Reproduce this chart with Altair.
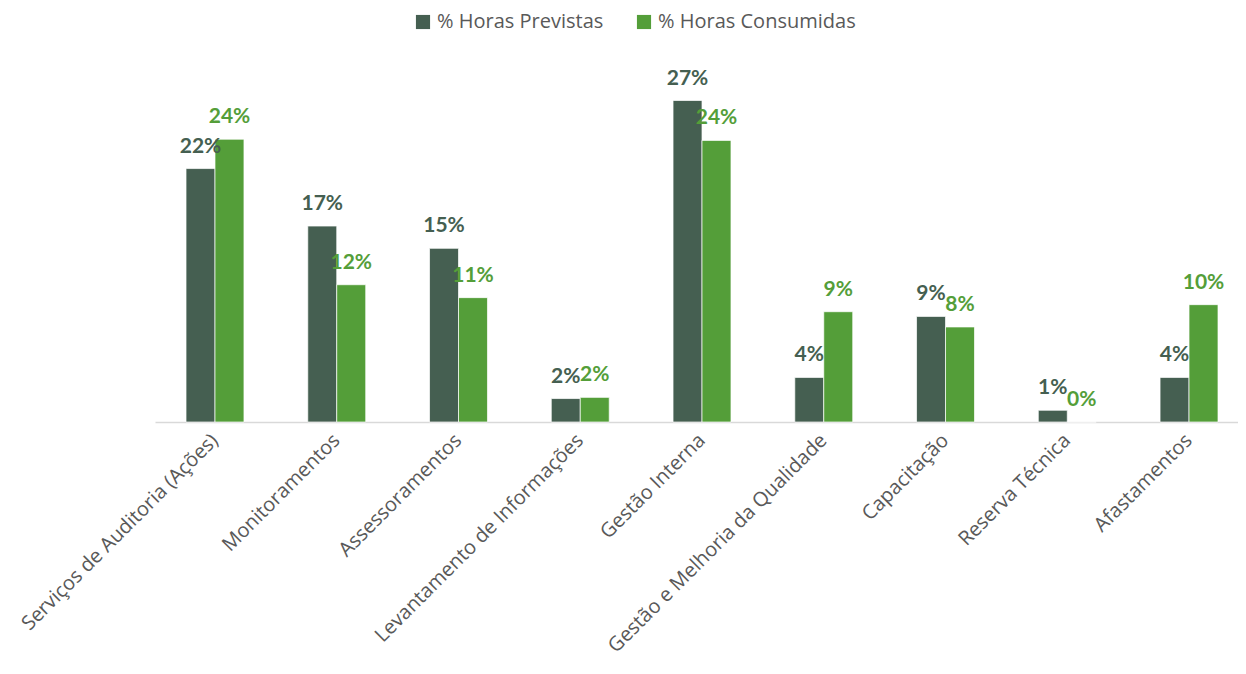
import altair as alt
import pandas as pd

categories = [
    "Serviços de Auditoria (Ações)",
    "Monitoramentos",
    "Assessoramentos",
    "Levantamento de Informações",
    "Gestão Interna",
    "Gestão e Melhoria da Qualidade",
    "Capacitação",
    "Reserva Técnica",
    "Afastamentos",
]
series_names = ["% Horas Previstas", "% Horas Consumidas"]
previstas = [21.6, 16.7, 14.8, 2.0, 27.4, 3.8, 9.0, 1.0, 3.8]
consumidas = [24.1, 11.7, 10.6, 2.1, 24.0, 9.4, 8.1, 0.0, 10.0]
colors = ["#455F51", "#549E39"]

rows = []
for i, c in enumerate(categories):
    rows.append({"cat": c, "serie": series_names[0], "v": previstas[i]})
    rows.append({"cat": c, "serie": series_names[1], "v": consumidas[i]})
df = pd.DataFrame(rows)
df["frac"] = df["v"] / 100.0

x = alt.X(
    "cat:N",
    sort=categories,
    title=None,
    scale=alt.Scale(paddingInner=0.524, paddingOuter=0.2095, align=0.608),
    axis=alt.Axis(
        labelAngle=-45,
        labelAlign="right",
        labelBaseline="middle",
        labelFont="Open Sans",
        labelFontSize=20,
        labelColor="#595959",
        labelPadding=15,
        labelLimit=500,
        ticks=False,
        domainColor="#D9D9D9",
        domainWidth=1.5,
        grid=False,
    ),
)
y = alt.Y("v:Q", scale=alt.Scale(domain=[0, 30]), axis=None)
xo = alt.XOffset("serie:N", sort=series_names)
color = alt.Color(
    "serie:N",
    sort=series_names,
    scale=alt.Scale(domain=series_names, range=colors),
    legend=alt.Legend(
        title=None,
        orient="none",
        legendX=258,
        legendY=-58,
        direction="horizontal",
        symbolType="square",
        symbolSize=200,
        symbolStrokeWidth=0,
        labelFont="Open Sans",
        labelFontSize=20,
        labelColor="#595959",
        labelLimit=400,
        columnPadding=30,
        labelOffset=4,
    ),
)

bars = alt.Chart(df).mark_bar(stroke="#FFFFFF", strokeWidth=1, strokeOpacity=0.7).encode(
    x=x, xOffset=xo, y=y, color=color
)
labels = alt.Chart(df).mark_text(
    font="Lato", fontSize=21, fontWeight="bold", baseline="bottom", dy=-12
).encode(
    x=x,
    xOffset=xo,
    y=y,
    text=alt.Text("frac:Q", format=".0%"),
    color=alt.Color("serie:N", sort=series_names, scale=alt.Scale(domain=series_names, range=colors), legend=None),
)

chart = (
    alt.layer(bars, labels)
    .properties(
        width=1083,
        height=352,
        autosize=alt.AutoSizeParams(type="none"),
        padding={"left": 147, "top": 62, "right": 0, "bottom": 238},
    )
    .configure(background="white")
    .configure_view(strokeWidth=0, stroke="transparent")
)

chart.save("out.html", embed_options={"renderer": "svg", "actions": False})
